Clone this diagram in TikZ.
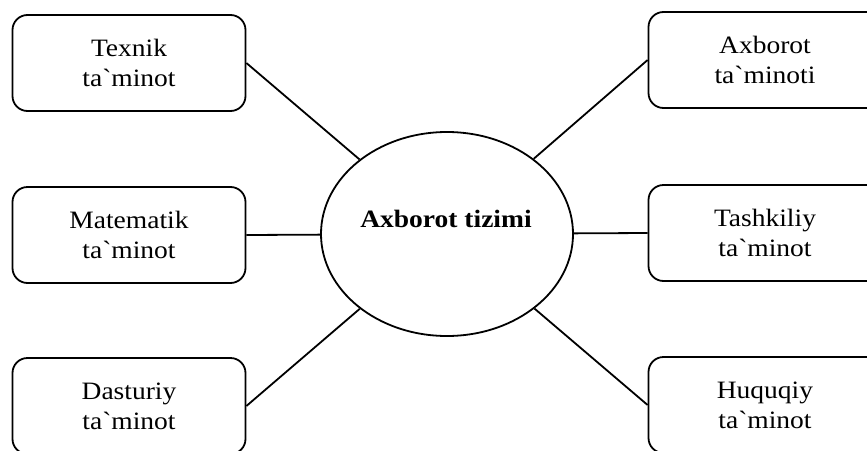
\documentclass[tikz,border=0pt]{standalone}
\usepackage{fontspec}
\setmainfont[FakeStretch=1.1,Ligatures=TeXOff]{Liberation Serif}
\usetikzlibrary{shapes.geometric}
\begin{document}
\begin{tikzpicture}[x=1pt,y=-1pt,
  part/.style={draw, line width=1.8pt, rounded corners=15pt,
    minimum width=233pt, minimum height=96pt, inner sep=0pt,
    align=center, font=\fontsize{25}{30}\selectfont},
  core/.style={draw, ellipse, line width=1.8pt,
    minimum width=252pt, minimum height=204pt, inner sep=0pt},
  link/.style={line width=1.8pt}]
\useasboundingbox (0,0) rectangle (867,450);
\clip (0,0) rectangle (867,450);

% central system
\node[core] (sys) at (447,234) {};
\node[anchor=base, inner sep=0pt, font=\fontsize{25}{28}\selectfont\bfseries]
  (systext) at (446,227) {Axborot tizimi};

% left column
\node[part] (tex) at (129,63)  {Texnik\\ta`minot};
\node[part] (mat) at (129,235) {Matematik\\ta`minot};
\node[part] (das) at (129,406) {Dasturiy\\ta`minot};

% right column
\node[part] (axb) at (765,60)  {Axborot\\ta`minoti};
\node[part] (tas) at (765,233) {Tashkiliy\\ta`minot};
\node[part] (huq) at (765,405) {Huquqiy\\ta`minot};

% spokes
\draw[link] (tex.east) -- (sys);
\draw[link] (mat.east) -- (sys);
\draw[link] (das.east) -- (sys);
\draw[link] (axb.west) -- (sys);
\draw[link] (tas.west) -- (sys);
\draw[link] (huq.west) -- (sys);
\end{tikzpicture}
\end{document}
